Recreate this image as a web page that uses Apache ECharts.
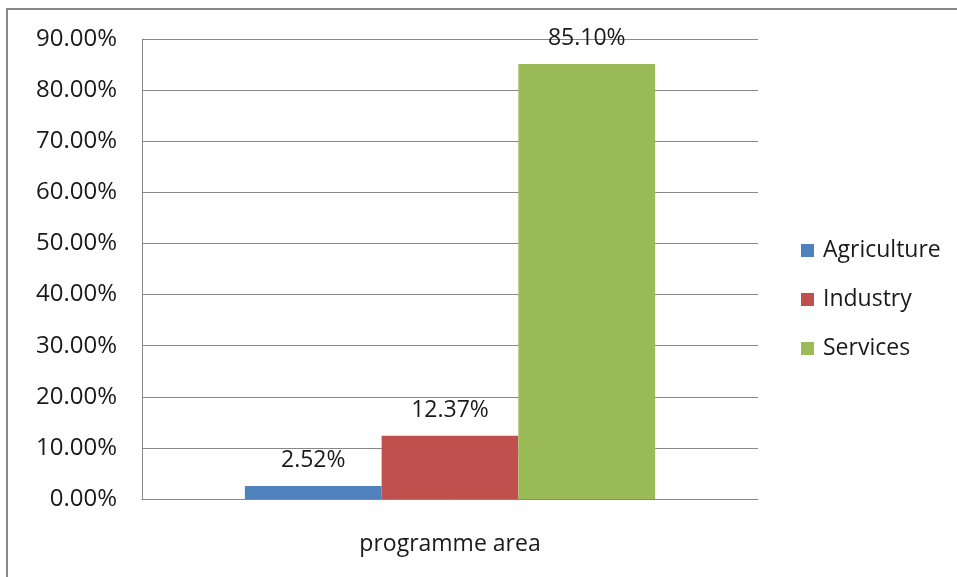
<!DOCTYPE html>
<html>
<head>
<meta charset="utf-8">
<script src="https://cdn.jsdelivr.net/npm/echarts@6/dist/echarts.min.js"></script>
<style>
html,body{margin:0;padding:0;background:#fff;}
#c{width:957px;height:577px;}
</style>
</head>
<body>
<div id="c"></div>
<script>
const categories = ['programme area'];
const seriesNames = ['Agriculture', 'Industry', 'Services'];
const agricultureValues = [2.52];
const industryValues = [12.37];
const servicesValues = [85.10];
const seriesColors = ['#4f81bd', '#c0504d', '#9bbb59'];
const yTicks = { min: 0, max: 90, interval: 10 };

const FONT = '"Open Sans", "Noto Sans", sans-serif';
const dataArrays = [agricultureValues, industryValues, servicesValues];

const chart = echarts.init(document.getElementById('c'), null, { renderer: 'canvas' });
chart.setOption({
  animation: false,
  backgroundColor: '#fff',
  graphic: [{
    type: 'rect',
    shape: { x: 7, y: 9, width: 1000, height: 1000 },
    style: { fill: 'none', stroke: '#888', lineWidth: 2 },
    silent: true
  }],
  grid: { left: 142, top: 39, right: 199, bottom: 78, containLabel: false },
  legend: {
    orient: 'vertical',
    left: 801,
    top: 239,
    padding: 0,
    itemWidth: 13,
    itemHeight: 13,
    itemGap: 26,
    icon: 'rect',
    textStyle: { fontFamily: FONT, fontSize: 23, color: '#1a1a1a', padding: [0, 0, 0, 4] },
    data: seriesNames
  },
  xAxis: {
    type: 'category',
    data: categories,
    axisLine: { show: true, lineStyle: { color: '#888', width: 1 } },
    axisTick: { show: false },
    axisLabel: { fontFamily: FONT, fontSize: 23, color: '#1a1a1a', margin: 34 },
    splitLine: { show: false }
  },
  yAxis: {
    type: 'value',
    min: yTicks.min,
    max: yTicks.max,
    interval: yTicks.interval,
    axisLine: { show: true, lineStyle: { color: '#888', width: 1 } },
    axisTick: { show: false },
    axisLabel: {
      fontFamily: FONT, fontSize: 24, color: '#1a1a1a', margin: 25,
      formatter: v => v.toFixed(2) + '%'
    },
    splitLine: { show: true, lineStyle: { color: '#888', width: 1 } }
  },
  series: seriesNames.map((name, i) => ({
    name: name,
    type: 'bar',
    data: dataArrays[i],
    barGap: '0%',
    barCategoryGap: '33.4%',
    itemStyle: { color: seriesColors[i] },
    label: {
      show: true,
      position: 'top',
      distance: 14,
      fontFamily: FONT,
      fontSize: 23,
      color: '#1a1a1a',
      formatter: p => p.value.toFixed(2) + '%'
    }
  }))
});
</script>
</body>
</html>
